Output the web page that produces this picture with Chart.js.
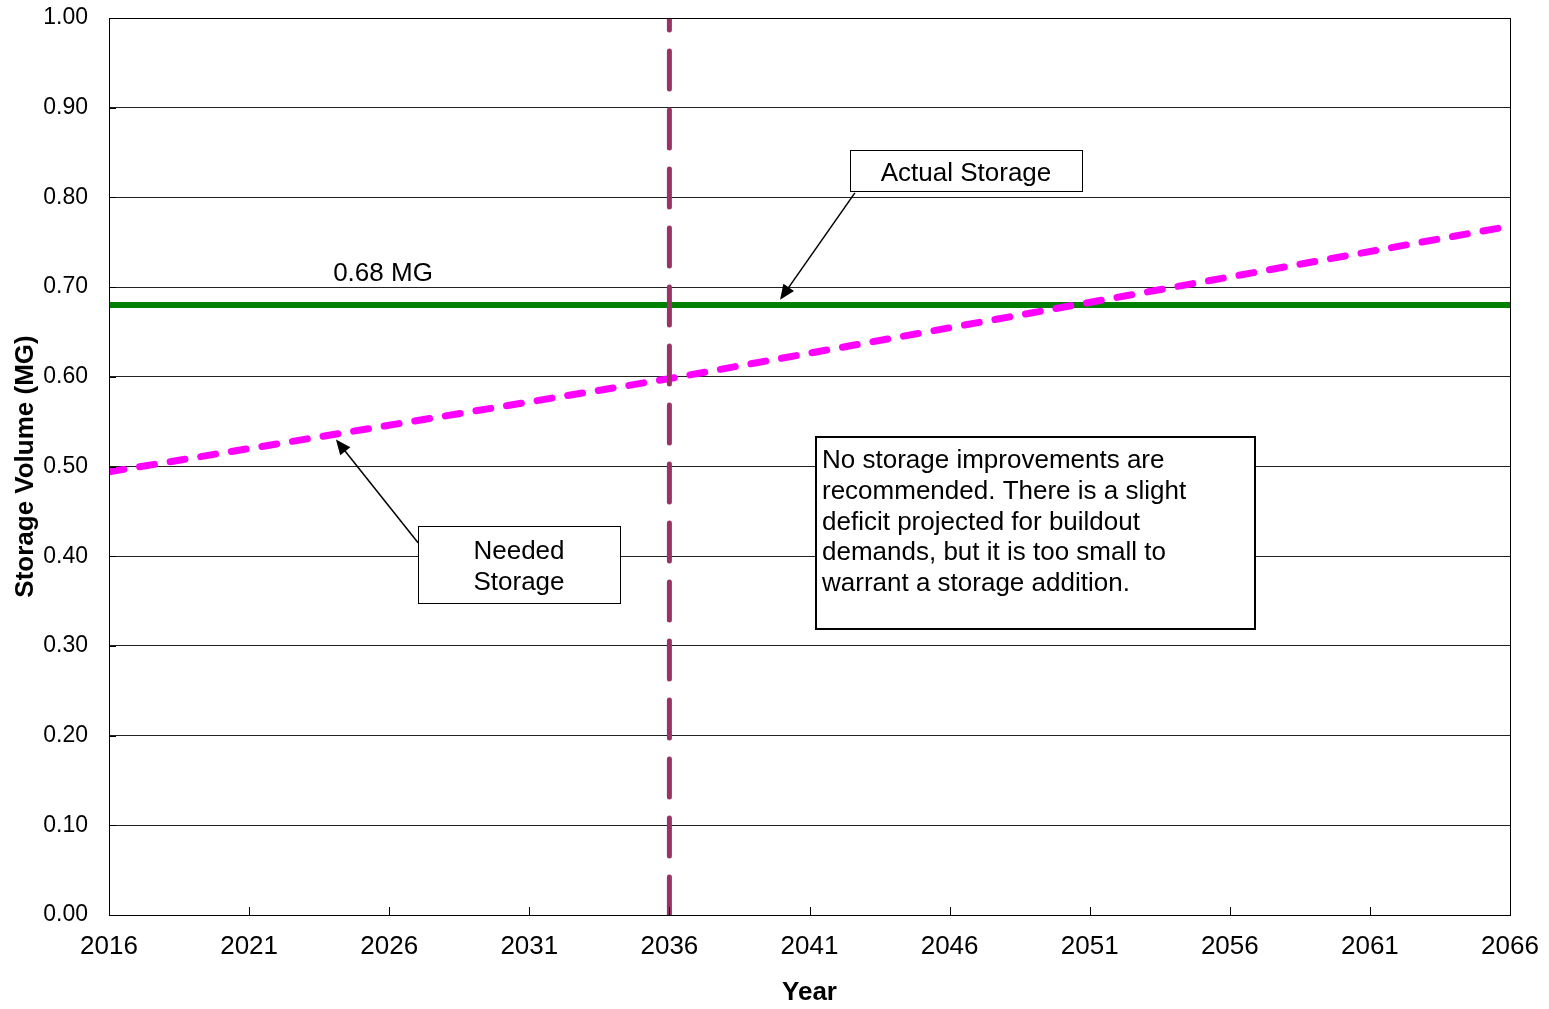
<!DOCTYPE html>
<html>
<head>
<meta charset="utf-8">
<script src="https://cdn.jsdelivr.net/npm/chart.js@4.4.1/dist/chart.umd.min.js"></script>
<style>
  html, body { margin: 0; padding: 0; background: #fff; }
  #wrap { width: 1549px; height: 1009px; }
</style>
</head>
<body>
<div id="wrap"><canvas id="storageChart" width="1549" height="1009"></canvas></div>
<script>
// --- chart data ---
const neededYears = [2016, 2036, 2066];
const neededStorage = [0.494, 0.598, 0.768];
const actualYears = [2016, 2066];
const actualStorage = [0.68, 0.68];
const markerYear = 2036;
const markerRange = [0, 1];
const xTickYears = [2016, 2021, 2026, 2031, 2036, 2041, 2046, 2051, 2056, 2061, 2066];
const yTickValues = [0, 0.1, 0.2, 0.3, 0.4, 0.5, 0.6, 0.7, 0.8, 0.9, 1.0];

const FONT = '"Liberation Sans", Arial, sans-serif';

// callouts, placed in data units (year, MG)
const callouts = [
    { lines: ['Actual Storage'], x0: 2042.45, x1: 2050.73, y0: 0.853, y1: 0.807, align: 'center', firstLine: 24, gap: 31, lineWidth: 1 },
    { lines: ['Needed', 'Storage'], x0: 2027.03, x1: 2034.24, y0: 0.434, y1: 0.348, align: 'center', firstLine: 26, gap: 31, lineWidth: 1 },
    { lines: ['No storage improvements are', 'recommended. There is a slight', 'deficit projected for buildout',
              'demands, but it is too small to', 'warrant a storage addition.'],
      x0: 2041.23, x1: 2056.90, y0: 0.533, y1: 0.319, align: 'left', firstLine: 24, gap: 30.7, lineWidth: 2 }
];
const arrows = [
    { from: [2042.62, 0.805], to: [2039.95, 0.686] },
    { from: [2027.03, 0.415], to: [2024.10, 0.530] }
];
const freeLabels = [
    { text: '0.68 MG', x: 2024.0, y: 0.715 }
];

function drawArrow(ctx, x1, y1, x2, y2) {
    const ang = Math.atan2(y2 - y1, x2 - x1);
    const len = 15, half = 6.5;
    ctx.beginPath();
    ctx.moveTo(x1, y1);
    ctx.lineTo(x2 - Math.cos(ang) * len * 0.8, y2 - Math.sin(ang) * len * 0.8);
    ctx.stroke();
    ctx.beginPath();
    ctx.moveTo(x2, y2);
    ctx.lineTo(x2 - Math.cos(ang) * len - Math.sin(ang) * half, y2 - Math.sin(ang) * len + Math.cos(ang) * half);
    ctx.lineTo(x2 - Math.cos(ang) * len + Math.sin(ang) * half, y2 - Math.sin(ang) * len - Math.cos(ang) * half);
    ctx.closePath();
    ctx.fill();
}

const overlay = {
    id: 'overlay',
    afterDatasetsDraw(chart) {
        const { ctx, chartArea: a, scales: { x, y } } = chart;
        ctx.save();

        // inside tick marks + plot frame
        ctx.strokeStyle = '#000';
        ctx.lineWidth = 1;
        ctx.beginPath();
        xTickYears.forEach(v => {
            const px = Math.round(x.getPixelForValue(v)) + 0.5;
            ctx.moveTo(px, a.bottom);
            ctx.lineTo(px, a.bottom - 8);
        });
        yTickValues.forEach(v => {
            const py = Math.round(y.getPixelForValue(v)) + 0.5;
            ctx.moveTo(a.left, py);
            ctx.lineTo(a.left + 7, py);
        });
        ctx.stroke();
        ctx.strokeRect(Math.round(a.left) + 0.5, Math.round(a.top) + 0.5,
                       Math.round(a.right - a.left), Math.round(a.bottom - a.top));

        // arrows
        ctx.strokeStyle = '#000';
        ctx.fillStyle = '#000';
        ctx.lineWidth = 1.5;
        arrows.forEach(ar => {
            drawArrow(ctx,
                x.getPixelForValue(ar.from[0]), y.getPixelForValue(ar.from[1]),
                x.getPixelForValue(ar.to[0]), y.getPixelForValue(ar.to[1]));
        });

        // text boxes
        ctx.font = '26px ' + FONT;
        ctx.textBaseline = 'middle';
        callouts.forEach(c => {
            const l = Math.round(x.getPixelForValue(c.x0));
            const r = Math.round(x.getPixelForValue(c.x1));
            const t = Math.round(y.getPixelForValue(c.y0));
            const b = Math.round(y.getPixelForValue(c.y1));
            ctx.fillStyle = '#fff';
            ctx.fillRect(l, t, r - l, b - t);
            ctx.lineWidth = c.lineWidth;
            ctx.strokeStyle = '#000';
            const off = c.lineWidth % 2 ? 0.5 : 0;
            ctx.strokeRect(l + off, t + off, r - l, b - t);
            ctx.fillStyle = '#000';
            ctx.textAlign = c.align;
            const tx = c.align === 'center' ? (l + r) / 2 : l + 6;
            c.lines.forEach((line, i) => ctx.fillText(line, tx, t + c.firstLine + i * c.gap));
        });

        ctx.textAlign = 'left';
        freeLabels.forEach(f => {
            ctx.fillText(f.text, x.getPixelForValue(f.x), y.getPixelForValue(f.y));
        });
        ctx.restore();
    }
};

// keep the plot area fixed: drop the label overhang padding the scales ask for
function noOverhang(scale) {
    scale.paddingTop = 0;
    scale.paddingBottom = 0;
    scale.paddingLeft = 0;
    scale.paddingRight = 0;
}

new Chart(document.getElementById('storageChart'), {
    type: 'line',
    data: {
        datasets: [
            {
                label: 'Buildout marker',
                data: markerRange.map(v => ({ x: markerYear, y: v })),
                borderColor: '#993366',
                borderWidth: 5,
                borderDash: [38, 21],
                borderCapStyle: 'round',
                pointRadius: 0,
                fill: false
            },
            {
                label: 'Needed Storage',
                data: neededYears.map((yr, i) => ({ x: yr, y: neededStorage[i] })),
                borderColor: '#FF00FF',
                borderWidth: 7,
                borderDash: [15, 16],
                borderCapStyle: 'round',
                pointRadius: 0,
                fill: false
            },
            {
                label: 'Actual Storage',
                data: actualYears.map((yr, i) => ({ x: yr, y: actualStorage[i] })),
                borderColor: '#008000',
                borderWidth: 6,
                pointRadius: 0,
                fill: false
            }
        ]
    },
    options: {
        responsive: false,
        animation: false,
        layout: { padding: { left: 0, top: 18, right: 39, bottom: 0 } },
        plugins: {
            legend: { display: false },
            tooltip: { enabled: false }
        },
        scales: {
            x: {
                type: 'linear',
                min: 2016,
                max: 2066,
                afterBuildTicks: scale => { scale.ticks = xTickYears.map(v => ({ value: v })); },
                afterFit: scale => { scale.height = 94; noOverhang(scale); },
                grid: { display: false, drawTicks: false },
                border: { display: true, color: '#000', width: 1 },
                ticks: {
                    color: '#000',
                    padding: 16,
                    maxRotation: 0,
                    font: { family: FONT, size: 26 },
                    callback: v => String(v)
                },
                title: {
                    display: true,
                    text: 'Year',
                    color: '#000',
                    font: { family: FONT, size: 26, weight: 'bold' },
                    padding: { top: 0, bottom: 1 }
                }
            },
            y: {
                type: 'linear',
                min: 0,
                max: 1,
                afterBuildTicks: scale => { scale.ticks = yTickValues.map(v => ({ value: v })); },
                afterFit: scale => { scale.width = 109; noOverhang(scale); },
                grid: { color: '#222', lineWidth: 1, drawTicks: false },
                border: { display: true, color: '#000', width: 1 },
                ticks: {
                    color: '#000',
                    padding: 21,
                    font: { family: FONT, size: 23 },
                    callback: v => Number(v).toFixed(2)
                },
                title: {
                    display: true,
                    text: 'Storage Volume (MG)',
                    color: '#000',
                    font: { family: FONT, size: 26, weight: 'bold' },
                    padding: { top: 10, bottom: 0 }
                }
            }
        }
    },
    plugins: [overlay]
});
</script>
</body>
</html>
